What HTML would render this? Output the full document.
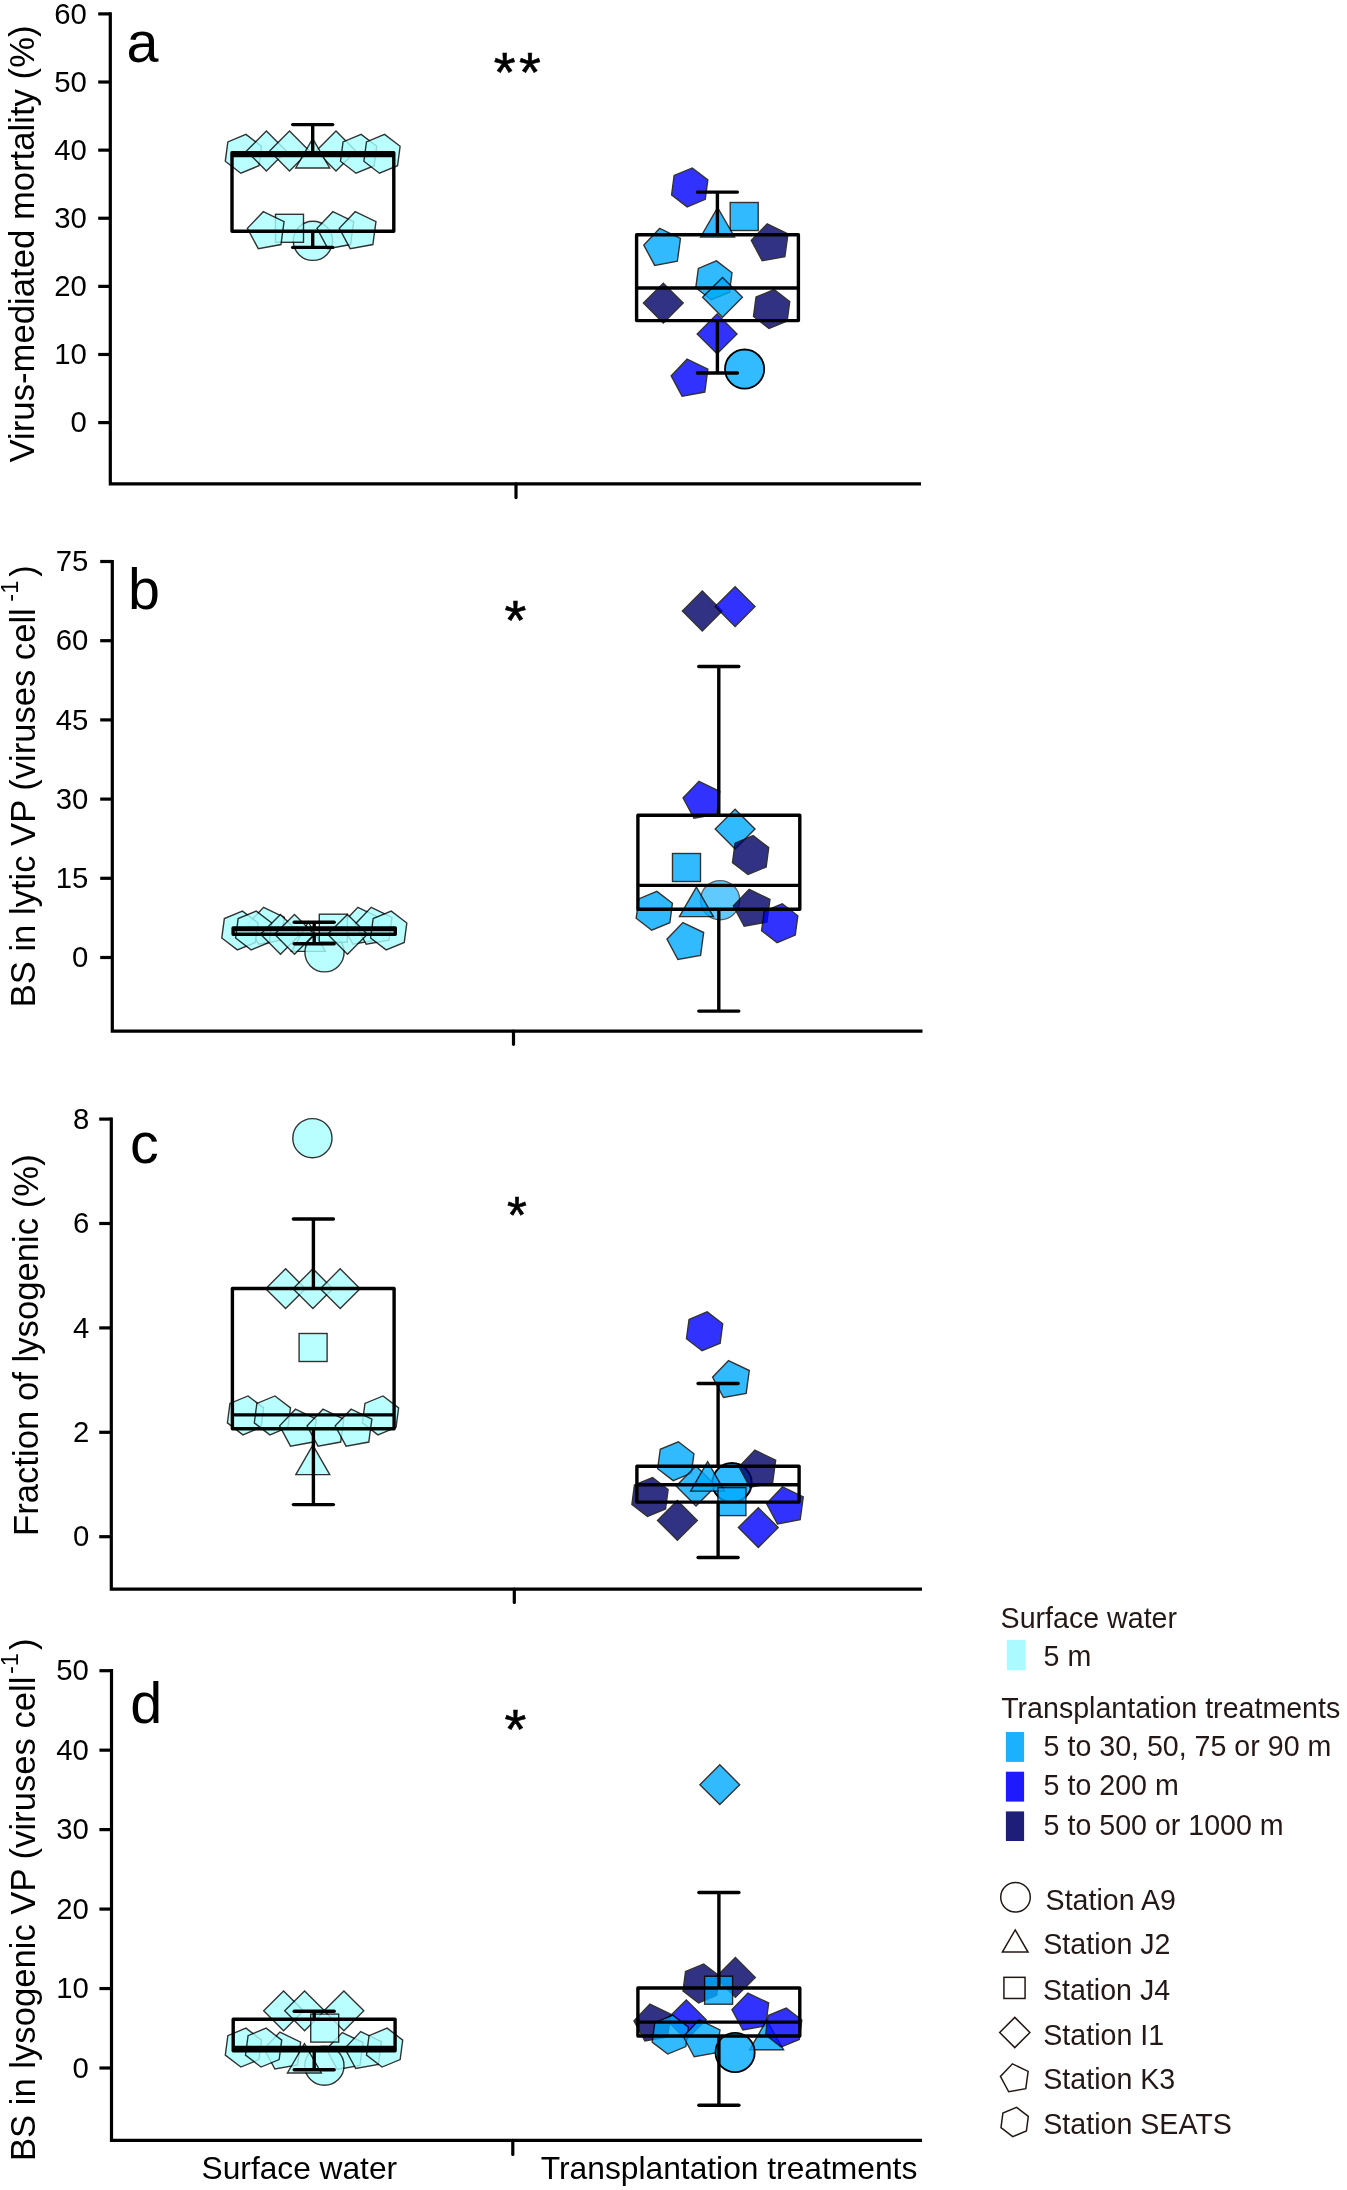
<!DOCTYPE html>
<html lang="en"><head><meta charset="utf-8"><title>Figure</title>
<style>html,body{margin:0;padding:0;background:#fff}svg{display:block;filter:blur(0.45px)}text{font-family:"Liberation Sans",sans-serif}</style></head><body>
<svg width="1347" height="2190" viewBox="0 0 1347 2190">
<rect width="1347" height="2190" fill="#fff"/>
<g id="panel-a">
<polygon points="245.96,134.37 261.51,146.3 258.95,165.73 240.84,173.23 225.29,161.3 227.85,141.87" fill="#AAFFFF" stroke="#000" stroke-width="1.4" stroke-linejoin="miter" opacity="0.8"/>
<polygon points="266.4,131.1 286.3,151 266.4,170.9 246.5,151" fill="#AAFFFF" stroke="#000" stroke-width="1.4" stroke-linejoin="miter" opacity="0.8"/>
<polygon points="289.5,131.1 309.4,151 289.5,170.9 269.6,151" fill="#AAFFFF" stroke="#000" stroke-width="1.4" stroke-linejoin="miter" opacity="0.8"/>
<polygon points="336,131.1 355.9,151 336,170.9 316.1,151" fill="#AAFFFF" stroke="#000" stroke-width="1.4" stroke-linejoin="miter" opacity="0.8"/>
<polygon points="312.7,138.6 329.67,168 295.73,168" fill="#AAFFFF" stroke="#000" stroke-width="1.4" stroke-linejoin="miter" opacity="0.8"/>
<polygon points="361.16,134.37 376.71,146.3 374.15,165.73 356.04,173.23 340.49,161.3 343.05,141.87" fill="#AAFFFF" stroke="#000" stroke-width="1.4" stroke-linejoin="miter" opacity="0.8"/>
<polygon points="384.56,134.37 400.11,146.3 397.55,165.73 379.44,173.23 363.89,161.3 366.45,141.87" fill="#AAFFFF" stroke="#000" stroke-width="1.4" stroke-linejoin="miter" opacity="0.8"/>
<circle cx="312.9" cy="240.8" r="19.6" fill="#AAFFFF" stroke="#000" stroke-width="1.4" stroke-linejoin="miter" opacity="0.8"/>
<rect x="275.5" y="214.3" width="28" height="28" fill="#AAFFFF" stroke="#000" stroke-width="1.4" stroke-linejoin="miter" opacity="0.8"/>
<polygon points="263.3,211.72 284.06,221.71 280.97,244.54 258.3,248.66 247.38,228.37" fill="#AAFFFF" stroke="#000" stroke-width="1.4" stroke-linejoin="miter" opacity="0.8"/>
<polygon points="332.9,211.72 353.66,221.71 350.57,244.54 327.9,248.66 316.98,228.37" fill="#AAFFFF" stroke="#000" stroke-width="1.4" stroke-linejoin="miter" opacity="0.8"/>
<polygon points="355.2,211.72 375.96,221.71 372.87,244.54 350.2,248.66 339.28,228.37" fill="#AAFFFF" stroke="#000" stroke-width="1.4" stroke-linejoin="miter" opacity="0.8"/>
<g fill="none" stroke="#000" stroke-width="3.4">
<rect x="232" y="152.7" width="161.8" height="78.5" stroke-linejoin="round"/>
<line x1="232" y1="155.5" x2="393.8" y2="155.5"/>
<line x1="312.7" y1="124.6" x2="312.7" y2="152.7"/>
<line x1="312.7" y1="231.2" x2="312.7" y2="247.4"/>
<line x1="292.7" y1="124.6" x2="332.7" y2="124.6" stroke-linecap="round"/>
<line x1="292.7" y1="247.4" x2="332.7" y2="247.4" stroke-linecap="round"/>
</g>
<polygon points="692.26,167.97 707.81,179.9 705.25,199.33 687.14,206.83 671.59,194.9 674.15,175.47" fill="#0000FF" stroke="#000" stroke-width="1.4" stroke-linejoin="miter" opacity="0.8"/>
<rect x="730.2" y="202.5" width="28" height="28" fill="#00AAFF" stroke="#000" stroke-width="1.4" stroke-linejoin="miter" opacity="0.8"/>
<polygon points="717.6,207.6 734.57,237 700.63,237" fill="#00AAFF" stroke="#000" stroke-width="1.4" stroke-linejoin="miter" opacity="0.8"/>
<polygon points="659.7,228.42 680.46,238.41 677.37,261.24 654.7,265.36 643.78,245.07" fill="#00AAFF" stroke="#000" stroke-width="1.4" stroke-linejoin="miter" opacity="0.8"/>
<polygon points="767.2,223.82 787.96,233.81 784.87,256.64 762.2,260.76 751.28,240.47" fill="#000066" stroke="#000" stroke-width="1.4" stroke-linejoin="miter" opacity="0.8"/>
<polygon points="716.46,260.87 732.01,272.8 729.45,292.23 711.34,299.73 695.79,287.8 698.35,268.37" fill="#00AAFF" stroke="#000" stroke-width="1.4" stroke-linejoin="miter" opacity="0.8"/>
<polygon points="722.5,277.4 742.4,297.3 722.5,317.2 702.6,297.3" fill="#00AAFF" stroke="#000" stroke-width="1.4" stroke-linejoin="miter" opacity="0.8"/>
<polygon points="663.3,283.2 683.2,303.1 663.3,323 643.4,303.1" fill="#000066" stroke="#000" stroke-width="1.4" stroke-linejoin="miter" opacity="0.8"/>
<polygon points="774.16,289.57 789.71,301.5 787.15,320.93 769.04,328.43 753.49,316.5 756.05,297.07" fill="#000066" stroke="#000" stroke-width="1.4" stroke-linejoin="miter" opacity="0.8"/>
<polygon points="717.1,314 737,333.9 717.1,353.8 697.2,333.9" fill="#0000FF" stroke="#000" stroke-width="1.4" stroke-linejoin="miter" opacity="0.8"/>
<circle cx="744.6" cy="369.1" r="19.6" fill="#00AAFF" stroke="#000" stroke-width="1.8" fill-opacity="0.8" stroke-opacity="1"/>
<polygon points="687.1,359.22 707.86,369.21 704.77,392.04 682.1,396.16 671.18,375.87" fill="#0000FF" stroke="#000" stroke-width="1.4" stroke-linejoin="miter" opacity="0.8"/>
<g fill="none" stroke="#000" stroke-width="3.4">
<rect x="636.6" y="234.8" width="161.8" height="85.8" stroke-linejoin="round"/>
<line x1="636.6" y1="288" x2="798.4" y2="288"/>
<line x1="717.4" y1="192.1" x2="717.4" y2="234.8"/>
<line x1="717.4" y1="320.6" x2="717.4" y2="373"/>
<line x1="697.4" y1="192.1" x2="737.4" y2="192.1" stroke-linecap="round"/>
<line x1="697.4" y1="373" x2="737.4" y2="373" stroke-linecap="round"/>
</g>
<g stroke="#000" stroke-width="3.2" fill="none">
<path d="M110.3,12.3 V483.8 H921"/>
<line x1="98.2" y1="13.9" x2="110.3" y2="13.9"/>
<line x1="98.2" y1="82.02" x2="110.3" y2="82.02"/>
<line x1="98.2" y1="150.13" x2="110.3" y2="150.13"/>
<line x1="98.2" y1="218.25" x2="110.3" y2="218.25"/>
<line x1="98.2" y1="286.37" x2="110.3" y2="286.37"/>
<line x1="98.2" y1="354.48" x2="110.3" y2="354.48"/>
<line x1="98.2" y1="422.6" x2="110.3" y2="422.6"/>
<line x1="516" y1="483.8" x2="516" y2="497.6" stroke-linecap="round"/>
</g>
<g font-size="29.3" text-anchor="end" fill="#000">
<text x="86.9" y="23.5">60</text>
<text x="86.9" y="91.62">50</text>
<text x="86.9" y="159.73">40</text>
<text x="86.9" y="227.85">30</text>
<text x="86.9" y="295.97">20</text>
<text x="86.9" y="364.08">10</text>
<text x="86.9" y="432.2">0</text>
</g>
<text x="126.4" y="61.7" font-size="57.5">a</text>
<text x="493.8" y="91.2" font-size="56" letter-spacing="3.3" stroke="#000" stroke-width="0.6">**</text>
<text transform="translate(33.6,462.4) rotate(-90)" font-size="34.7">Virus-mediated mortality (%)</text>
</g>
<g id="panel-b">
<polygon points="263.6,907.32 284.36,917.31 281.27,940.14 258.6,944.26 247.68,923.97" fill="#AAFFFF" stroke="#000" stroke-width="1.4" stroke-linejoin="miter" opacity="0.8"/>
<polygon points="357.9,907.32 378.66,917.31 375.57,940.14 352.9,944.26 341.98,923.97" fill="#AAFFFF" stroke="#000" stroke-width="1.4" stroke-linejoin="miter" opacity="0.8"/>
<polygon points="371.2,907.32 391.96,917.31 388.87,940.14 366.2,944.26 355.28,923.97" fill="#AAFFFF" stroke="#000" stroke-width="1.4" stroke-linejoin="miter" opacity="0.8"/>
<polygon points="308.4,922 325.37,951.4 291.43,951.4" fill="#AAFFFF" stroke="#000" stroke-width="1.4" stroke-linejoin="miter" opacity="0.8"/>
<polygon points="242.46,911.07 258.01,923 255.45,942.43 237.34,949.93 221.79,938 224.35,918.57" fill="#AAFFFF" stroke="#000" stroke-width="1.4" stroke-linejoin="miter" opacity="0.8"/>
<polygon points="256.26,911.07 271.81,923 269.25,942.43 251.14,949.93 235.59,938 238.15,918.57" fill="#AAFFFF" stroke="#000" stroke-width="1.4" stroke-linejoin="miter" opacity="0.8"/>
<circle cx="324.5" cy="952.3" r="19.6" fill="#AAFFFF" stroke="#000" stroke-width="1.4" stroke-linejoin="miter" opacity="0.8"/>
<rect x="319.3" y="914.2" width="28" height="28" fill="#AAFFFF" stroke="#000" stroke-width="1.4" stroke-linejoin="miter" opacity="0.8"/>
<polygon points="280.5,914.4 300.4,934.3 280.5,954.2 260.6,934.3" fill="#AAFFFF" stroke="#000" stroke-width="1.4" stroke-linejoin="miter" opacity="0.8"/>
<polygon points="294.5,914.4 314.4,934.3 294.5,954.2 274.6,934.3" fill="#AAFFFF" stroke="#000" stroke-width="1.4" stroke-linejoin="miter" opacity="0.8"/>
<polygon points="347.5,914.4 367.4,934.3 347.5,954.2 327.6,934.3" fill="#AAFFFF" stroke="#000" stroke-width="1.4" stroke-linejoin="miter" opacity="0.8"/>
<polygon points="391.26,911.07 406.81,923 404.25,942.43 386.14,949.93 370.59,938 373.15,918.57" fill="#AAFFFF" stroke="#000" stroke-width="1.4" stroke-linejoin="miter" opacity="0.8"/>
<g fill="none" stroke="#000" stroke-width="3.4">
<rect x="233.1" y="927.9" width="162.2" height="6.3" stroke-linejoin="round"/>
<line x1="233.1" y1="929.5" x2="395.3" y2="929.5"/>
<line x1="314.2" y1="922.3" x2="314.2" y2="927.9"/>
<line x1="314.2" y1="934.2" x2="314.2" y2="943.7"/>
<line x1="294.2" y1="922.3" x2="334.2" y2="922.3" stroke-linecap="round"/>
<line x1="294.2" y1="943.7" x2="334.2" y2="943.7" stroke-linecap="round"/>
</g>
<polygon points="702.3,591.1 722.2,611 702.3,630.9 682.4,611" fill="#000066" stroke="#000" stroke-width="1.4" stroke-linejoin="miter" opacity="0.8"/>
<polygon points="735.1,586.7 755,606.6 735.1,626.5 715.2,606.6" fill="#0000FF" stroke="#000" stroke-width="1.4" stroke-linejoin="miter" opacity="0.8"/>
<polygon points="699,781.32 719.76,791.31 716.67,814.14 694,818.26 683.08,797.97" fill="#0000FF" stroke="#000" stroke-width="1.4" stroke-linejoin="miter" opacity="0.8"/>
<polygon points="735.1,809.2 755,829.1 735.1,849 715.2,829.1" fill="#00AAFF" stroke="#000" stroke-width="1.4" stroke-linejoin="miter" opacity="0.8"/>
<polygon points="753.16,835.67 768.71,847.6 766.15,867.03 748.04,874.53 732.49,862.6 735.05,843.17" fill="#000066" stroke="#000" stroke-width="1.4" stroke-linejoin="miter" opacity="0.8"/>
<rect x="672.5" y="853.5" width="28" height="28" fill="#00AAFF" stroke="#000" stroke-width="1.4" stroke-linejoin="miter" opacity="0.8"/>
<circle cx="720.1" cy="900.2" r="19.6" fill="#00AAFF" stroke="#000" stroke-width="1.4" stroke-linejoin="miter" opacity="0.62"/>
<polygon points="696.4,887.2 713.37,916.6 679.43,916.6" fill="#00AAFF" stroke="#000" stroke-width="1.4" stroke-linejoin="miter" opacity="0.8"/>
<polygon points="656.86,891.37 672.41,903.3 669.85,922.73 651.74,930.23 636.19,918.3 638.75,898.87" fill="#00AAFF" stroke="#000" stroke-width="1.4" stroke-linejoin="miter" opacity="0.8"/>
<polygon points="749.2,889.32 769.96,899.31 766.87,922.14 744.2,926.26 733.28,905.97" fill="#000066" stroke="#000" stroke-width="1.4" stroke-linejoin="miter" opacity="0.8"/>
<polygon points="782.26,903.77 797.81,915.7 795.25,935.13 777.14,942.63 761.59,930.7 764.15,911.27" fill="#0000FF" stroke="#000" stroke-width="1.4" stroke-linejoin="miter" opacity="0.8"/>
<polygon points="682.9,922.52 703.66,932.51 700.57,955.34 677.9,959.46 666.98,939.17" fill="#00AAFF" stroke="#000" stroke-width="1.4" stroke-linejoin="miter" opacity="0.8"/>
<g fill="none" stroke="#000" stroke-width="3.4">
<rect x="637.9" y="815.2" width="161.9" height="94" stroke-linejoin="round"/>
<line x1="637.9" y1="885.4" x2="799.8" y2="885.4"/>
<line x1="718.8" y1="666.5" x2="718.8" y2="815.2"/>
<line x1="718.8" y1="909.2" x2="718.8" y2="1011.1"/>
<line x1="698.8" y1="666.5" x2="738.8" y2="666.5" stroke-linecap="round"/>
<line x1="698.8" y1="1011.1" x2="738.8" y2="1011.1" stroke-linecap="round"/>
</g>
<g stroke="#000" stroke-width="3.2" fill="none">
<path d="M112.3,559.9 V1031.1 H922.5"/>
<line x1="100.2" y1="561.5" x2="112.3" y2="561.5"/>
<line x1="100.2" y1="640.7" x2="112.3" y2="640.7"/>
<line x1="100.2" y1="719.9" x2="112.3" y2="719.9"/>
<line x1="100.2" y1="799.1" x2="112.3" y2="799.1"/>
<line x1="100.2" y1="878.3" x2="112.3" y2="878.3"/>
<line x1="100.2" y1="957.5" x2="112.3" y2="957.5"/>
<line x1="513.5" y1="1031.1" x2="513.5" y2="1044.3" stroke-linecap="round"/>
</g>
<g font-size="29.3" text-anchor="end" fill="#000">
<text x="88.3" y="571.1">75</text>
<text x="88.3" y="650.3">60</text>
<text x="88.3" y="729.5">45</text>
<text x="88.3" y="808.7">30</text>
<text x="88.3" y="887.9">15</text>
<text x="88.3" y="967.1">0</text>
</g>
<text x="127.9" y="608.7" font-size="57.5">b</text>
<text x="515.4" y="638.5" font-size="56" text-anchor="middle" stroke="#000" stroke-width="0.6">*</text>
<text transform="translate(34.8,1007.3) rotate(-90)" font-size="34.6">BS in lytic VP (viruses cell<tspan font-size="23.5" dy="-17.2" dx="6.6">-1</tspan><tspan dy="17.2" dx="3.9">)</tspan></text>
</g>
<g id="panel-c">
<circle cx="312.4" cy="1138.2" r="19.6" fill="#AAFFFF" stroke="#000" stroke-width="1.4" stroke-linejoin="miter" opacity="0.8"/>
<polygon points="285.6,1268.8 305.5,1288.7 285.6,1308.6 265.7,1288.7" fill="#AAFFFF" stroke="#000" stroke-width="1.4" stroke-linejoin="miter" opacity="0.8"/>
<polygon points="312.9,1268.8 332.8,1288.7 312.9,1308.6 293,1288.7" fill="#AAFFFF" stroke="#000" stroke-width="1.4" stroke-linejoin="miter" opacity="0.8"/>
<polygon points="340.2,1268.8 360.1,1288.7 340.2,1308.6 320.3,1288.7" fill="#AAFFFF" stroke="#000" stroke-width="1.4" stroke-linejoin="miter" opacity="0.8"/>
<rect x="299.1" y="1333.5" width="28" height="28" fill="#AAFFFF" stroke="#000" stroke-width="1.4" stroke-linejoin="miter" opacity="0.8"/>
<polygon points="248.06,1395.97 263.61,1407.9 261.05,1427.33 242.94,1434.83 227.39,1422.9 229.95,1403.47" fill="#AAFFFF" stroke="#000" stroke-width="1.4" stroke-linejoin="miter" opacity="0.8"/>
<polygon points="274.96,1395.97 290.51,1407.9 287.95,1427.33 269.84,1434.83 254.29,1422.9 256.85,1403.47" fill="#AAFFFF" stroke="#000" stroke-width="1.4" stroke-linejoin="miter" opacity="0.8"/>
<polygon points="383.06,1395.97 398.61,1407.9 396.05,1427.33 377.94,1434.83 362.39,1422.9 364.95,1403.47" fill="#AAFFFF" stroke="#000" stroke-width="1.4" stroke-linejoin="miter" opacity="0.8"/>
<polygon points="295.5,1409.22 316.26,1419.21 313.17,1442.04 290.5,1446.16 279.58,1425.87" fill="#AAFFFF" stroke="#000" stroke-width="1.4" stroke-linejoin="miter" opacity="0.8"/>
<polygon points="323,1409.22 343.76,1419.21 340.67,1442.04 318,1446.16 307.08,1425.87" fill="#AAFFFF" stroke="#000" stroke-width="1.4" stroke-linejoin="miter" opacity="0.8"/>
<polygon points="351.1,1409.22 371.86,1419.21 368.77,1442.04 346.1,1446.16 335.18,1425.87" fill="#AAFFFF" stroke="#000" stroke-width="1.4" stroke-linejoin="miter" opacity="0.8"/>
<polygon points="312.8,1445.2 329.77,1474.6 295.83,1474.6" fill="#AAFFFF" stroke="#000" stroke-width="1.4" stroke-linejoin="miter" opacity="0.8"/>
<g fill="none" stroke="#000" stroke-width="3.4">
<rect x="232.4" y="1288.5" width="161.7" height="140.2" stroke-linejoin="round"/>
<line x1="232.4" y1="1414.9" x2="394.1" y2="1414.9"/>
<line x1="313.4" y1="1219" x2="313.4" y2="1288.5"/>
<line x1="313.4" y1="1428.7" x2="313.4" y2="1504.6"/>
<line x1="293.4" y1="1219" x2="333.4" y2="1219" stroke-linecap="round"/>
<line x1="293.4" y1="1504.6" x2="333.4" y2="1504.6" stroke-linecap="round"/>
</g>
<circle cx="732" cy="1482.7" r="19.6" fill="#00AAFF" stroke="#000" stroke-width="2" fill-opacity="0.8" stroke-opacity="1"/>
<polygon points="707.16,1311.87 722.71,1323.8 720.15,1343.23 702.04,1350.73 686.49,1338.8 689.05,1319.37" fill="#0000FF" stroke="#000" stroke-width="1.4" stroke-linejoin="miter" opacity="0.8"/>
<polygon points="728.5,1360.52 749.26,1370.51 746.17,1393.34 723.5,1397.46 712.58,1377.17" fill="#00AAFF" stroke="#000" stroke-width="1.4" stroke-linejoin="miter" opacity="0.8"/>
<polygon points="678.36,1441.77 693.91,1453.7 691.35,1473.13 673.24,1480.63 657.69,1468.7 660.25,1449.27" fill="#00AAFF" stroke="#000" stroke-width="1.4" stroke-linejoin="miter" opacity="0.8"/>
<polygon points="754.9,1450.22 775.66,1460.21 772.57,1483.04 749.9,1487.16 738.98,1466.87" fill="#000066" stroke="#000" stroke-width="1.4" stroke-linejoin="miter" opacity="0.8"/>
<polygon points="652.56,1477.57 668.11,1489.5 665.55,1508.93 647.44,1516.43 631.89,1504.5 634.45,1485.07" fill="#000066" stroke="#000" stroke-width="1.4" stroke-linejoin="miter" opacity="0.8"/>
<polygon points="696,1466.1 715.9,1486 696,1505.9 676.1,1486" fill="#00AAFF" stroke="#000" stroke-width="1.4" stroke-linejoin="miter" opacity="0.8"/>
<polygon points="707.6,1461.7 724.57,1491.1 690.63,1491.1" fill="#00AAFF" stroke="#000" stroke-width="1.4" stroke-linejoin="miter" opacity="0.8"/>
<rect x="717.9" y="1487.6" width="28" height="28" fill="#00AAFF" stroke="#000" stroke-width="1.4" stroke-linejoin="miter" opacity="0.8"/>
<polygon points="677.4,1500.5 697.3,1520.4 677.4,1540.3 657.5,1520.4" fill="#000066" stroke="#000" stroke-width="1.4" stroke-linejoin="miter" opacity="0.8"/>
<polygon points="758.3,1507.7 778.2,1527.6 758.3,1547.5 738.4,1527.6" fill="#0000FF" stroke="#000" stroke-width="1.4" stroke-linejoin="miter" opacity="0.8"/>
<polygon points="782.5,1486.92 803.26,1496.91 800.17,1519.74 777.5,1523.86 766.58,1503.57" fill="#0000FF" stroke="#000" stroke-width="1.4" stroke-linejoin="miter" opacity="0.8"/>
<g fill="none" stroke="#000" stroke-width="3.4">
<rect x="636.9" y="1466.2" width="162.2" height="35.9" stroke-linejoin="round"/>
<line x1="636.9" y1="1484.8" x2="799.1" y2="1484.8"/>
<line x1="718.1" y1="1383.5" x2="718.1" y2="1466.2"/>
<line x1="718.1" y1="1502.1" x2="718.1" y2="1557.5"/>
<line x1="698.1" y1="1383.5" x2="738.1" y2="1383.5" stroke-linecap="round"/>
<line x1="698.1" y1="1557.5" x2="738.1" y2="1557.5" stroke-linecap="round"/>
</g>
<g stroke="#000" stroke-width="3.2" fill="none">
<path d="M111.3,1117.5 V1589.1 H922"/>
<line x1="99.2" y1="1119.1" x2="111.3" y2="1119.1"/>
<line x1="99.2" y1="1223.5" x2="111.3" y2="1223.5"/>
<line x1="99.2" y1="1327.9" x2="111.3" y2="1327.9"/>
<line x1="99.2" y1="1432.3" x2="111.3" y2="1432.3"/>
<line x1="99.2" y1="1536.7" x2="111.3" y2="1536.7"/>
<line x1="514.3" y1="1589.1" x2="514.3" y2="1602.5" stroke-linecap="round"/>
</g>
<g font-size="29.3" text-anchor="end" fill="#000">
<text x="89.4" y="1128.7">8</text>
<text x="89.4" y="1233.1">6</text>
<text x="89.4" y="1337.5">4</text>
<text x="89.4" y="1441.9">2</text>
<text x="89.4" y="1546.3">0</text>
</g>
<text x="130" y="1162.8" font-size="57.5">c</text>
<text x="516.9" y="1233.1" font-size="51" text-anchor="middle" stroke="#000" stroke-width="0.6">*</text>
<text transform="translate(38.3,1536) rotate(-90)" font-size="34.7">Fraction of lysogenic (%)</text>
</g>
<g id="panel-d">
<polygon points="279.9,2032.12 300.66,2042.11 297.57,2064.94 274.9,2069.06 263.98,2048.77" fill="#AAFFFF" stroke="#000" stroke-width="1.4" stroke-linejoin="miter" opacity="0.8"/>
<polygon points="342.3,2032.52 363.06,2042.51 359.97,2065.34 337.3,2069.46 326.38,2049.17" fill="#AAFFFF" stroke="#000" stroke-width="1.4" stroke-linejoin="miter" opacity="0.8"/>
<polygon points="360.7,2031.62 381.46,2041.61 378.37,2064.44 355.7,2068.56 344.78,2048.27" fill="#AAFFFF" stroke="#000" stroke-width="1.4" stroke-linejoin="miter" opacity="0.8"/>
<polygon points="245.96,2028.17 261.51,2040.1 258.95,2059.53 240.84,2067.03 225.29,2055.1 227.85,2035.67" fill="#AAFFFF" stroke="#000" stroke-width="1.4" stroke-linejoin="miter" opacity="0.8"/>
<polygon points="266.16,2028.17 281.71,2040.1 279.15,2059.53 261.04,2067.03 245.49,2055.1 248.05,2035.67" fill="#AAFFFF" stroke="#000" stroke-width="1.4" stroke-linejoin="miter" opacity="0.8"/>
<polygon points="387.16,2028.17 402.71,2040.1 400.15,2059.53 382.04,2067.03 366.49,2055.1 369.05,2035.67" fill="#AAFFFF" stroke="#000" stroke-width="1.4" stroke-linejoin="miter" opacity="0.8"/>
<polygon points="283.6,1990.9 303.5,2010.8 283.6,2030.7 263.7,2010.8" fill="#AAFFFF" stroke="#000" stroke-width="1.4" stroke-linejoin="miter" opacity="0.8"/>
<polygon points="304.6,1990.9 324.5,2010.8 304.6,2030.7 284.7,2010.8" fill="#AAFFFF" stroke="#000" stroke-width="1.4" stroke-linejoin="miter" opacity="0.8"/>
<polygon points="343.9,1990.9 363.8,2010.8 343.9,2030.7 324,2010.8" fill="#AAFFFF" stroke="#000" stroke-width="1.4" stroke-linejoin="miter" opacity="0.8"/>
<rect x="310.7" y="2014.1" width="28" height="28" fill="#AAFFFF" stroke="#000" stroke-width="1.4" stroke-linejoin="miter" opacity="0.8"/>
<circle cx="324.4" cy="2065.7" r="19.6" fill="#AAFFFF" stroke="#000" stroke-width="1.4" stroke-linejoin="miter" opacity="0.8"/>
<polygon points="304.4,2043.6 321.37,2073 287.43,2073" fill="#AAFFFF" stroke="#000" stroke-width="1.4" stroke-linejoin="miter" opacity="0.8"/>
<g fill="none" stroke="#000" stroke-width="3.4">
<rect x="233.2" y="2019.2" width="161.9" height="31.6" stroke-linejoin="round"/>
<line x1="233.2" y1="2047.5" x2="395.1" y2="2047.5"/>
<line x1="314.2" y1="2011.2" x2="314.2" y2="2019.2"/>
<line x1="314.2" y1="2050.8" x2="314.2" y2="2069.7"/>
<line x1="294.2" y1="2011.2" x2="334.2" y2="2011.2" stroke-linecap="round"/>
<line x1="294.2" y1="2069.7" x2="334.2" y2="2069.7" stroke-linecap="round"/>
</g>
<polygon points="703.66,1963.97 719.21,1975.9 716.65,1995.33 698.54,2002.83 682.99,1990.9 685.55,1971.47" fill="#000066" stroke="#000" stroke-width="1.4" stroke-linejoin="miter" opacity="0.8"/>
<polygon points="735.4,1957.5 755.3,1977.4 735.4,1997.3 715.5,1977.4" fill="#000066" stroke="#000" stroke-width="1.4" stroke-linejoin="miter" opacity="0.8"/>
<rect x="704.6" y="1976.2" width="28" height="28" fill="#00AAFF" stroke="#000" stroke-width="1.4" stroke-linejoin="miter" opacity="0.8"/>
<polygon points="747.9,1993.02 768.66,2003.01 765.57,2025.84 742.9,2029.96 731.98,2009.67" fill="#0000FF" stroke="#000" stroke-width="1.4" stroke-linejoin="miter" opacity="0.8"/>
<polygon points="766.6,2020.4 783.57,2049.8 749.63,2049.8" fill="#00AAFF" stroke="#000" stroke-width="1.4" stroke-linejoin="miter" opacity="0.8"/>
<polygon points="786.26,2008.07 801.81,2020 799.25,2039.43 781.14,2046.93 765.59,2035 768.15,2015.57" fill="#0000FF" stroke="#000" stroke-width="1.4" stroke-linejoin="miter" opacity="0.8"/>
<polygon points="686.3,1999.9 706.2,2019.8 686.3,2039.7 666.4,2019.8" fill="#0000FF" stroke="#000" stroke-width="1.4" stroke-linejoin="miter" opacity="0.8"/>
<polygon points="649.9,2004.12 670.66,2014.11 667.57,2036.94 644.9,2041.06 633.98,2020.77" fill="#000066" stroke="#000" stroke-width="1.4" stroke-linejoin="miter" opacity="0.8"/>
<polygon points="672.86,2015.17 688.41,2027.1 685.85,2046.53 667.74,2054.03 652.19,2042.1 654.75,2022.67" fill="#00AAFF" stroke="#000" stroke-width="1.4" stroke-linejoin="miter" opacity="0.8"/>
<polygon points="699.2,2019.82 719.96,2029.81 716.87,2052.64 694.2,2056.76 683.28,2036.47" fill="#00AAFF" stroke="#000" stroke-width="1.4" stroke-linejoin="miter" opacity="0.8"/>
<circle cx="735.1" cy="2052.5" r="19.6" fill="#00AAFF" stroke="#000" stroke-width="1.8" fill-opacity="0.8" stroke-opacity="1"/>
<polygon points="719.8,1764.8 739.7,1784.7 719.8,1804.6 699.9,1784.7" fill="#00AAFF" stroke="#000" stroke-width="1.4" stroke-linejoin="miter" opacity="0.8"/>
<g fill="none" stroke="#000" stroke-width="3.4">
<rect x="637.9" y="1988" width="161.9" height="48" stroke-linejoin="round"/>
<line x1="637.9" y1="2022.1" x2="799.8" y2="2022.1"/>
<line x1="718.9" y1="1892.5" x2="718.9" y2="1988"/>
<line x1="718.9" y1="2036" x2="718.9" y2="2105.2"/>
<line x1="698.9" y1="1892.5" x2="738.9" y2="1892.5" stroke-linecap="round"/>
<line x1="698.9" y1="2105.2" x2="738.9" y2="2105.2" stroke-linecap="round"/>
</g>
<g stroke="#000" stroke-width="3.2" fill="none">
<path d="M111.5,1669.1 V2140.3 H922"/>
<line x1="99.4" y1="1670.7" x2="111.5" y2="1670.7"/>
<line x1="99.4" y1="1750.16" x2="111.5" y2="1750.16"/>
<line x1="99.4" y1="1829.62" x2="111.5" y2="1829.62"/>
<line x1="99.4" y1="1909.08" x2="111.5" y2="1909.08"/>
<line x1="99.4" y1="1988.54" x2="111.5" y2="1988.54"/>
<line x1="99.4" y1="2068" x2="111.5" y2="2068"/>
<line x1="512.8" y1="2140.3" x2="512.8" y2="2154.5" stroke-linecap="round"/>
</g>
<g font-size="29.3" text-anchor="end" fill="#000">
<text x="88.8" y="1680.3">50</text>
<text x="88.8" y="1759.76">40</text>
<text x="88.8" y="1839.22">30</text>
<text x="88.8" y="1918.68">20</text>
<text x="88.8" y="1998.14">10</text>
<text x="88.8" y="2077.6">0</text>
</g>
<text x="130.3" y="1723" font-size="57.5">d</text>
<text x="515.4" y="1747.5" font-size="56" text-anchor="middle" stroke="#000" stroke-width="0.6">*</text>
<text transform="translate(34.8,2161.1) rotate(-90)" font-size="34.65">BS in lysogenic VP (viruses cell<tspan font-size="23.5" dy="-17.2" dx="2.6">-1</tspan><tspan dy="17.2" dx="3.0">)</tspan></text>
<text x="201.6" y="2178.5" font-size="31.7">Surface water</text>
<text x="540.8" y="2178.5" font-size="31.75">Transplantation treatments</text>
</g>
<g id="legend" font-size="28.6" fill="#231815">
<text x="1000.6" y="1628">Surface water</text>
<rect x="1006.8" y="1640" width="18.8" height="30.3" fill="#AAFAFF"/>
<text x="1043.6" y="1665.5">5 m</text>
<text x="1001.2" y="1718">Transplantation treatments</text>
<rect x="1005.9" y="1732" width="18.2" height="29.9" fill="#1BB1FF"/>
<text x="1043.6" y="1755.7">5 to 30, 50, 75 or 90 m</text>
<rect x="1005.9" y="1771.7" width="18.2" height="29.9" fill="#1E19FF"/>
<text x="1043.6" y="1794.9">5 to 200 m</text>
<rect x="1005.9" y="1811.4" width="18.2" height="29.6" fill="#1E1E78"/>
<text x="1043.6" y="1834.7">5 to 500 or 1000 m</text>
<circle cx="1015.5" cy="1897.3" r="14.8" fill="none" stroke="#231815" stroke-width="1.5" stroke-linejoin="miter" opacity="1"/>
<polygon points="1015.2,1929.9 1028.02,1952.1 1002.38,1952.1" fill="none" stroke="#231815" stroke-width="1.5" stroke-linejoin="miter" opacity="1"/>
<rect x="1003.93" y="1977.33" width="21.14" height="21.14" fill="none" stroke="#231815" stroke-width="1.5" stroke-linejoin="miter" opacity="1"/>
<polygon points="1014.8,2017.4 1029.9,2032.5 1014.8,2047.6 999.7,2032.5" fill="none" stroke="#231815" stroke-width="1.5" stroke-linejoin="miter" opacity="1"/>
<polygon points="1012.45,2063.84 1028.13,2071.38 1025.8,2088.63 1008.68,2091.74 1000.43,2076.42" fill="none" stroke="#231815" stroke-width="1.5" stroke-linejoin="miter" opacity="1"/>
<polygon points="1016.58,2107.33 1028.32,2116.34 1026.39,2131.01 1012.72,2136.67 1000.98,2127.66 1002.91,2112.99" fill="none" stroke="#231815" stroke-width="1.5" stroke-linejoin="miter" opacity="1"/>
<text x="1045.6" y="1909.8">Station A9</text>
<text x="1043.3" y="1954.3">Station J2</text>
<text x="1043" y="1999.9">Station J4</text>
<text x="1043.3" y="2044.6">Station I1</text>
<text x="1043.3" y="2089.3">Station K3</text>
<text x="1043.3" y="2133.9">Station SEATS</text>
</g>
</svg></body></html>
